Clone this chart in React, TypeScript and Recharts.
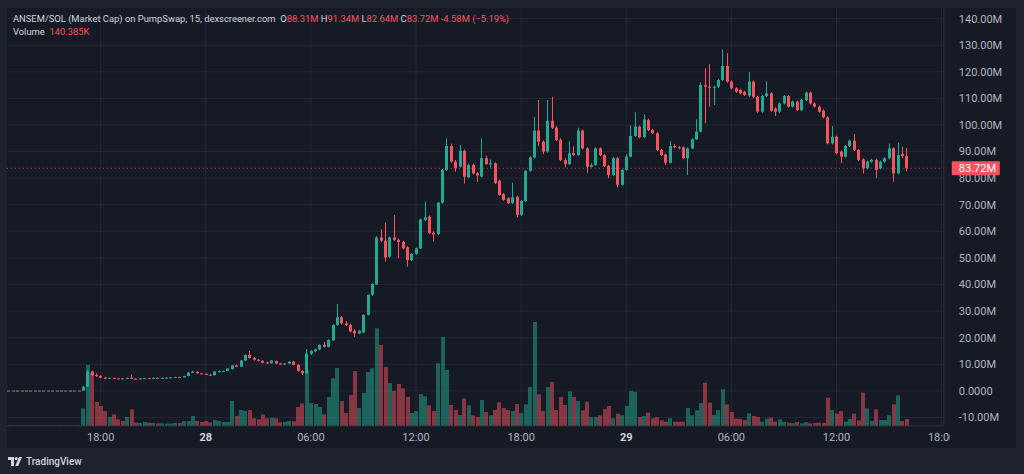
import React from 'react';
import { ComposedChart, Bar, XAxis, YAxis, CartesianGrid, ReferenceLine } from 'recharts';

// 15 minute candles, ANSEM/SOL market cap in millions, volume in thousands
const OPEN = [
  0.12, 0.08, 0.12, 0.08, 0.12, 0.08, 0.12, 0.08, 0.12, 0.08,
  0.12, 0.08, 0.12, 0.08, 0.12, 0.08, 0.12, 0.10, 1.6, 7.3,
  6.0, 5.6, 5.0, 4.6, 4.9, 4.7, 4.7, 4.5, 4.9, 4.6,
  4.5, 4.7, 4.8, 4.7, 4.9, 4.8, 4.9, 5.0, 5.0, 5.2,
  5.1, 5.6, 6.9, 7.2, 6.6, 6.4, 6.1, 5.9, 7.3, 7.3,
  7.5, 8.2, 9.6, 9.1, 11.4, 13.5, 12.4, 11.7, 11.3, 10.7,
  10.4, 11.2, 10.3, 10.0, 10.3, 11.0, 9.8, 7.5, 6.6, 14.0,
  15.0, 15.6, 17.3, 16.6, 19.0, 24.8, 27.7, 25.4, 24.8, 22.6,
  21.6, 22.0, 28.6, 36.1, 40.0, 57.7, 56.5, 50.5, 57.7, 56.8,
  56.0, 54.0, 49.2, 51.5, 53.6, 64.3, 65.5, 59.5, 59.0, 70.8,
  83.1, 92.1, 86.2, 84.3, 90.3, 80.3, 85.0, 81.8, 80.6, 87.5,
  85.3, 85.6, 79.0, 74.0, 72.4, 70.6, 73.0, 66.2, 71.4, 82.8,
  87.8, 97.9, 93.7, 90.0, 101.6, 99.0, 94.4, 86.8, 85.3, 89.4,
  88.7, 97.9, 91.2, 84.3, 85.0, 91.2, 88.7, 84.6, 81.2, 87.5,
  77.5, 83.1, 88.1, 95.9, 99.4, 95.4, 101.9, 98.1, 96.9, 90.6,
  88.9, 85.8, 92.1, 91.6, 91.6, 87.5, 91.2, 94.6, 97.5, 115.0,
  114.4, 114.0, 114.4, 116.9, 122.2, 116.3, 113.8, 113.2, 112.5, 111.0,
  116.3, 110.6, 105.0, 110.9, 111.9, 106.2, 105.0, 108.1, 110.9, 106.9,
  108.8, 105.6, 109.4, 112.2, 108.1, 106.9, 105.4, 102.9, 93.1, 95.6,
  90.0, 88.1, 92.1, 94.1, 90.6, 87.1, 83.7, 86.2, 86.9, 83.7,
  86.2, 87.5, 91.2, 81.8, 89.1, 88.31,
];

const HIGH = [
  0.13, 0.13, 0.13, 0.13, 0.13, 0.13, 0.13, 0.13, 0.13, 0.13,
  0.13, 0.13, 0.13, 0.13, 0.13, 0.13, 0.13, 1.8, 7.8, 7.6,
  6.6, 5.8, 5.1, 5.0, 5.0, 4.8, 4.8, 5.0, 6.2, 4.7,
  4.8, 4.9, 4.9, 5.0, 5.0, 5.0, 5.1, 5.2, 5.3, 5.3,
  5.7, 7.1, 7.6, 7.4, 6.8, 6.6, 6.3, 7.4, 7.7, 7.6,
  8.5, 9.8, 9.9, 11.6, 13.7, 15.0, 12.8, 12.0, 11.5, 11.0,
  11.6, 11.4, 10.6, 10.5, 11.2, 11.2, 10.1, 7.8, 15.7, 15.4,
  15.9, 17.5, 18.4, 19.4, 25.0, 32.7, 28.2, 26.2, 25.3, 23.2,
  23.0, 28.8, 36.3, 40.5, 58.2, 60.8, 63.3, 58.0, 66.1, 57.4,
  56.5, 54.4, 51.8, 53.9, 64.8, 71.2, 66.0, 60.0, 71.0, 83.4,
  95.0, 93.0, 86.8, 92.5, 90.8, 85.5, 85.4, 82.3, 95.0, 88.5,
  87.0, 86.0, 79.4, 74.4, 72.8, 78.3, 73.4, 71.8, 83.0, 88.2,
  103.0, 109.4, 94.2, 109.4, 110.6, 99.6, 95.0, 87.6, 94.0, 92.0,
  99.0, 98.3, 91.6, 85.6, 91.6, 91.6, 89.0, 85.0, 88.0, 87.9,
  83.4, 89.0, 100.0, 104.7, 99.8, 104.0, 102.4, 98.5, 97.3, 91.0,
  89.3, 94.0, 92.9, 92.2, 92.0, 91.6, 95.0, 102.1, 116.0, 121.3,
  122.9, 114.8, 117.3, 128.4, 127.0, 116.7, 114.2, 113.6, 112.9, 119.9,
  116.7, 111.0, 111.3, 116.6, 112.3, 106.6, 108.5, 111.3, 111.3, 109.2,
  109.2, 109.8, 112.6, 112.6, 108.5, 107.3, 105.8, 103.3, 99.6, 96.0,
  90.4, 92.5, 94.5, 96.6, 91.0, 87.5, 86.6, 87.3, 87.3, 86.6,
  87.9, 93.0, 91.6, 93.4, 91.9, 91.34,
];

const LOW = [
  0.07, 0.07, 0.07, 0.07, 0.07, 0.07, 0.07, 0.07, 0.07, 0.07,
  0.07, 0.07, 0.07, 0.07, 0.07, 0.07, 0.07, 0.05, 1.4, 5.6,
  5.2, 4.8, 4.4, 4.5, 4.5, 4.4, 4.4, 4.4, 4.4, 4.4,
  4.4, 4.6, 4.6, 4.6, 4.7, 4.7, 4.8, 4.9, 4.9, 5.0,
  5.0, 5.5, 6.7, 6.5, 6.2, 6.0, 5.6, 5.8, 7.0, 7.1,
  7.4, 8.0, 8.9, 9.0, 11.2, 12.2, 11.4, 11.1, 10.4, 10.2,
  10.3, 10.1, 9.8, 9.8, 10.1, 9.6, 7.3, 6.0, 6.4, 13.5,
  14.6, 15.3, 16.3, 16.4, 18.8, 24.5, 25.0, 24.4, 22.0, 20.3,
  21.3, 21.8, 28.4, 35.8, 39.8, 56.0, 48.6, 50.0, 56.4, 49.9,
  53.2, 46.7, 48.8, 51.2, 53.3, 63.8, 59.0, 56.2, 58.7, 70.4,
  82.8, 85.8, 82.5, 84.0, 78.0, 80.0, 81.4, 78.5, 80.3, 85.0,
  84.0, 77.8, 73.4, 71.5, 70.3, 70.3, 65.3, 65.8, 71.0, 82.4,
  87.4, 92.0, 89.0, 89.6, 98.5, 94.0, 86.4, 84.0, 85.0, 88.3,
  88.4, 90.8, 82.0, 84.0, 84.7, 88.3, 84.2, 80.0, 80.9, 76.5,
  77.2, 82.8, 87.8, 95.6, 95.0, 95.1, 97.7, 96.5, 90.2, 88.3,
  85.0, 85.5, 91.2, 90.8, 87.1, 81.2, 90.9, 94.3, 97.2, 100.6,
  106.9, 107.5, 114.0, 116.5, 115.9, 113.4, 112.1, 111.5, 110.9, 110.6,
  110.2, 104.6, 104.6, 110.5, 105.0, 103.4, 104.6, 107.7, 106.5, 106.5,
  105.2, 105.2, 109.0, 107.7, 106.5, 104.6, 102.5, 92.7, 92.7, 89.0,
  85.6, 87.7, 91.7, 90.2, 86.4, 81.8, 83.3, 85.8, 80.0, 83.3,
  85.8, 87.1, 78.7, 81.4, 87.5, 82.64,
];

const CLOSE = [
  0.08, 0.12, 0.08, 0.12, 0.08, 0.12, 0.08, 0.12, 0.08, 0.12,
  0.08, 0.12, 0.08, 0.12, 0.08, 0.12, 0.08, 1.6, 7.3, 6.0,
  5.6, 5.0, 4.6, 4.9, 4.6, 4.5, 4.5, 4.9, 4.5, 4.5,
  4.7, 4.8, 4.7, 4.9, 4.8, 4.9, 5.0, 5.1, 5.2, 5.1,
  5.6, 6.9, 7.2, 6.6, 6.4, 6.1, 5.9, 7.3, 7.4, 7.5,
  8.4, 9.6, 9.1, 11.4, 13.5, 12.4, 11.7, 11.3, 10.6, 10.4,
  11.4, 10.3, 10.0, 10.3, 11.0, 9.8, 7.5, 6.6, 14.0, 15.0,
  15.6, 17.3, 16.6, 19.2, 24.8, 27.7, 25.4, 24.8, 22.3, 21.6,
  22.6, 28.6, 36.1, 40.2, 57.7, 56.5, 50.2, 57.7, 56.8, 56.0,
  53.6, 49.2, 51.5, 53.6, 64.5, 65.3, 59.3, 58.8, 70.8, 83.1,
  92.1, 86.2, 83.7, 90.3, 80.6, 85.0, 81.8, 81.0, 87.5, 85.3,
  85.6, 78.1, 73.7, 71.8, 70.6, 72.8, 66.2, 71.4, 82.8, 87.8,
  97.9, 93.7, 90.0, 101.6, 99.0, 94.4, 86.8, 85.3, 89.4, 88.7,
  97.9, 91.2, 84.3, 85.0, 91.2, 88.7, 84.6, 81.2, 87.5, 77.5,
  83.1, 88.1, 95.9, 99.4, 95.4, 102.1, 98.1, 96.9, 90.6, 88.7,
  85.8, 92.1, 91.6, 91.2, 87.5, 91.2, 94.6, 97.5, 115.0, 114.4,
  114.0, 114.4, 116.9, 122.2, 116.3, 113.8, 112.5, 111.9, 111.3, 116.3,
  110.6, 105.0, 110.9, 111.9, 105.4, 105.0, 108.1, 110.9, 106.9, 108.8,
  105.6, 109.4, 112.2, 108.1, 106.9, 105.0, 102.9, 93.1, 95.6, 89.4,
  88.1, 92.1, 94.1, 90.6, 86.8, 83.7, 86.2, 86.9, 83.1, 86.2,
  87.5, 91.2, 81.8, 88.7, 88.30, 83.72,
];

const VOLUME = [
  12, 12, 12, 12, 12, 12, 12, 12, 12, 12,
  12, 12, 12, 12, 12, 12, 12, 354, 1220, 1066,
  480, 400, 300, 180, 234, 134, 100, 180, 334, 66,
  60, 80, 66, 60, 54, 54, 50, 50, 60, 60,
  100, 100, 200, 100, 80, 100, 70, 120, 100, 80,
  80, 500, 200, 320, 300, 320, 154, 134, 234, 154,
  166, 154, 74, 80, 100, 94, 380, 450, 1120, 460,
  440, 380, 234, 580, 954, 1160, 500, 260, 620, 1100,
  360, 660, 1080, 1154, 1954, 1620, 1180, 860, 700, 840,
  754, 580, 260, 300, 640, 594, 414, 300, 1254, 1780,
  1120, 420, 320, 220, 554, 414, 214, 180, 520, 280,
  214, 320, 474, 360, 320, 300, 440, 260, 434, 780,
  2080, 634, 300, 780, 880, 320, 580, 420, 694, 580,
  500, 314, 486, 180, 180, 214, 340, 400, 154, 246,
  214, 400, 700, 686, 180, 200, 266, 154, 180, 114,
  86, 154, 86, 86, 86, 360, 214, 314, 460, 866,
  466, 220, 320, 734, 434, 280, 146, 146, 120, 254,
  200, 180, 86, 146, 166, 86, 134, 80, 66, 54,
  80, 54, 74, 54, 60, 66, 60, 566, 320, 246,
  300, 86, 140, 246, 114, 666, 354, 100, 334, 120,
  120, 214, 434, 614, 100, 140.385,
];

// empty slots to the right of the last candle
const EMPTY_SLOTS = 8;

const TIME_TICKS = [21, 45, 69, 93, 117, 141, 165, 189, 213];
const TIME_LABELS = ['18:00', '28', '06:00', '12:00', '18:00', '29', '06:00', '12:00', '18:00'];
const DAY_LABELS = ['28', '29'];

const PRICE_TICKS = [-10, 0, 10, 20, 30, 40, 50, 60, 70, 80, 90, 100, 110, 120, 130, 140];

const UP = '#22ab94';
const DOWN = '#f7525f';
const UP_VOL = 'rgba(34, 171, 148, 0.5)';
const DOWN_VOL = 'rgba(247, 82, 95, 0.5)';
const TEXT = '#b2b5be';
const FONT = 'Roboto, "DejaVu Sans", sans-serif';

const rows = [];
for (let k = 0; k < OPEN.length + EMPTY_SLOTS; k++) {
  if (k < OPEN.length) {
    rows.push({ k, o: OPEN[k], h: HIGH[k], l: LOW[k], c: CLOSE[k], v: VOLUME[k] });
  } else {
    rows.push({ k, o: null, h: null, l: null, c: null, v: null });
  }
}

const last = OPEN.length - 1;
const lastClose = CLOSE[last];
const prevClose = CLOSE[last - 1];
const change = lastClose - prevClose;

const fmtPrice = (v: number) => (v === 0 ? '0.0000' : `${v.toFixed(2)}M`);

const Candle = (props: any) => {
  const { x, y, width, height, payload } = props;
  if (payload == null || payload.o == null) return <g />;
  const { o, h, l, c } = payload;
  const color = c >= o ? UP : DOWN;
  const span = h - l;
  const py = (v: number) => (span > 0 ? y + ((h - v) / span) * height : y);
  const left = Math.round(x + width / 2 - 1.5);
  const top = py(Math.max(o, c));
  const bottom = py(Math.min(o, c));
  return (
    <g>
      <line x1={left + 1.5} x2={left + 1.5} y1={y} y2={y + height} stroke={color} strokeWidth={1} />
      <rect x={left} y={top} width={3} height={Math.max(1, bottom - top)} fill={color} />
    </g>
  );
};

const VolumeBar = (props: any) => {
  const { x, y, width, height, payload } = props;
  if (payload == null || payload.v == null) return <g />;
  return (
    <rect
      x={Math.round(x)}
      y={y}
      width={Math.round(width)}
      height={Math.max(0, height)}
      fill={payload.c >= payload.o ? UP_VOL : DOWN_VOL}
    />
  );
};

const TimeTick = (props: any) => {
  const { x, y, payload } = props;
  const idx = TIME_TICKS.indexOf(payload.value);
  if (idx < 0) return <g />;
  const label = TIME_LABELS[idx];
  const isDay = DAY_LABELS.includes(label);
  return (
    <g>
      <defs>
        <clipPath id="time-clip">
          <rect x={0} y={0} width={950} height={474} />
        </clipPath>
      </defs>
      <text
        x={x}
        y={y + 15}
        textAnchor="middle"
        fill={isDay ? '#d1d4dc' : TEXT}
        fontSize={11}
        fontWeight={isDay ? 700 : 400}
        fontFamily={FONT}
        clipPath="url(#time-clip)"
      >
        {label}
      </text>
    </g>
  );
};

const PriceTick = (props: any) => {
  const { x, y, payload } = props;
  const v = payload.value;
  if (v === lastClose) {
    return (
      <g>
        <rect x={x - 7} y={y - 7} width={48} height={14} fill={DOWN} rx={1} />
        <text x={x} y={y} dy="0.355em" fill="#ffffff" fontSize={11} fontFamily={FONT}>
          {fmtPrice(v)}
        </text>
      </g>
    );
  }
  return (
    <text x={x} y={y} dy="0.355em" fill={TEXT} fontSize={11} fontFamily={FONT}>
      {fmtPrice(v)}
    </text>
  );
};

const TvLogo = () => (
  <svg width={14} height={9} viewBox="0 0 14 9" style={{ display: 'block' }}>
    <path d="M0 0 H6 V9 H3 V3 H0 Z" fill="#d1d4dc" />
    <circle cx={8.2} cy={1.6} r={1.6} fill="#d1d4dc" />
    <path d="M11 0 H14 L10.2 9 H7.2 Z" fill="#d1d4dc" />
  </svg>
);

export default function App() {
  const red = { color: DOWN };
  return (
    <div
      style={{
        position: 'relative',
        width: 1024,
        height: 474,
        background: '#1e222d',
        overflow: 'hidden',
        fontFamily: FONT,
      }}
    >
      <style>{'body { margin: 0; }'}</style>
      <div style={{ position: 'absolute', left: 7, top: 8, width: 1009, height: 440, background: '#161a25' }} />
      <div style={{ position: 'absolute', left: 0, top: 0 }}>
        <ComposedChart
          width={1024}
          height={474}
          data={rows}
          margin={{ top: 8, right: 0, bottom: 26, left: 6.5 }}
          barCategoryGap="10%"
        >
          <CartesianGrid
            xAxisId="x"
            yAxisId="p"
            stroke="#232734"
            horizontalValues={PRICE_TICKS}
            verticalValues={TIME_TICKS}
          />
          <XAxis
            xAxisId="x"
            dataKey="k"
            type="category"
            ticks={TIME_TICKS}
            interval={0}
            tick={<TimeTick />}
            tickLine={false}
            tickSize={0}
            tickMargin={0}
            height={22}
            axisLine={{ stroke: '#2a2e39' }}
          />
          <XAxis xAxisId="v" dataKey="k" type="category" height={0} hide />
          <YAxis
            yAxisId="p"
            orientation="right"
            type="number"
            domain={[-13.2, 144]}
            allowDataOverflow
            ticks={[...PRICE_TICKS, lastClose]}
            interval={0}
            width={80.2}
            tick={<PriceTick />}
            tickLine={false}
            tickSize={0}
            tickMargin={15}
            axisLine={{ stroke: '#2a2e39' }}
          />
          <YAxis yAxisId="v" type="number" domain={[0, 8360]} allowDataOverflow width={0} hide />
          <ReferenceLine
            xAxisId="x"
            yAxisId="p"
            y={lastClose}
            stroke={DOWN}
            strokeOpacity={0.8}
            strokeDasharray="1 3"
          />
          <Bar
            xAxisId="v"
            yAxisId="v"
            dataKey="v"
            shape={<VolumeBar />}
            isAnimationActive={false}
          />
          <Bar
            xAxisId="x"
            yAxisId="p"
            dataKey={(d: any) => (d.o == null ? null : [d.l, d.h])}
            shape={<Candle />}
            isAnimationActive={false}
          />
        </ComposedChart>
      </div>

      <div
        style={{
          position: 'absolute',
          left: 13,
          top: 13,
          fontSize: 9.4,
          lineHeight: '12.7px',
          color: '#d1d4dc',
          whiteSpace: 'pre',
        }}
      >
        <div>
          {'ANSEM/SOL (Market Cap) on PumpSwap, 15, dexscreener.com  O'}
          <span style={red}>{fmtPrice(OPEN[last])}</span>
          {' H'}
          <span style={red}>{fmtPrice(HIGH[last])}</span>
          {' L'}
          <span style={red}>{fmtPrice(LOW[last])}</span>
          {' C'}
          <span style={red}>{fmtPrice(lastClose)}</span>
          <span style={red}>{` ${change.toFixed(2)}M (\u2212${Math.abs((change / prevClose) * 100).toFixed(2)}%)`}</span>
        </div>
        <div>
          {'Volume  '}
          <span style={red}>{`${VOLUME[last].toFixed(3)}K`}</span>
        </div>
      </div>

      <div
        style={{
          position: 'absolute',
          left: 8,
          top: 456,
          display: 'flex',
          alignItems: 'center',
          gap: 4,
          color: '#d1d4dc',
          fontSize: 10,
          fontWeight: 500,
        }}
      >
        <TvLogo />
        <span>TradingView</span>
      </div>
    </div>
  );
}
